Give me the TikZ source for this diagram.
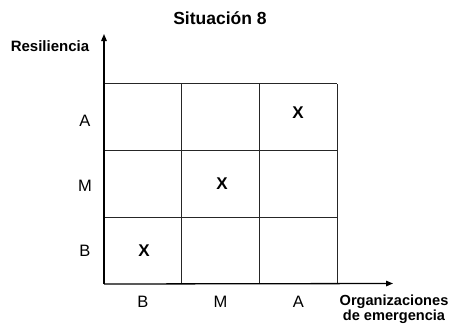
\documentclass[tikz,border=0pt]{standalone}
\usepackage{fontspec}
\setmainfont{Liberation Sans}
\usetikzlibrary{arrows.meta}

\tikzset{
	axis/.style={line width=1.3pt, -{Triangle[length=7pt,width=5.5pt]}},
	cellline/.style={line width=1pt, black!85},
	lab/.style={font=\fontsize{16.5}{18}\selectfont, inner sep=0pt},
	xmark/.style={font=\bfseries\fontsize{17}{18}\selectfont, inner sep=0pt},
	heading/.style={font=\bfseries\fontsize{17.5}{20}\selectfont, inner sep=0pt},
	axlabel/.style={font=\bfseries\fontsize{14.6}{15}\selectfont, inner sep=0pt, align=center}
}

\begin{document}
\begin{tikzpicture}[x=1pt,y=-1pt]
	\def \hor{ 77.7 };
	\def \ver{ 66.7 };
	\useasboundingbox (0,0) rectangle (455,325);
	% axes
	\coordinate (o) at (104,284);
	\coordinate (ytip) at (104,34);
	\coordinate (xtip) at (393,283.5);
	% grid
	\draw[cellline] (104+1*\hor,284) -- (104+1*\hor,284-3*\ver);
	\draw[cellline] (104+2*\hor,284) -- (104+2*\hor,284-3*\ver);
	\draw[cellline] (104+3*\hor,284) -- (104+3*\hor,284-3*\ver);
	\draw[cellline] (104,284-1*\ver) -- (104+3*\hor,284-1*\ver);
	\draw[cellline] (104,284-2*\ver) -- (104+3*\hor,284-2*\ver);
	\draw[cellline] (104,284-3*\ver) -- (104+3*\hor,284-3*\ver);
	\draw[axis] (o) -- (ytip);
	\draw[axis] (o) -- (xtip);
	% labels
	\node[heading] (title) at (220,18) {Situación 8};
	\node[axlabel, font=\bfseries\fontsize{15}{18}\selectfont] (res) at (50,46.5) {Resiliencia};
	\node[axlabel] (org) at (394,309) {Organizaciones\\de emergencia};
	\node[lab] (yA) at (85,120.5) {A};
	\node[lab] (yM) at (85,186) {M};
	\node[lab] (yB) at (85,251) {B};
	\node[lab] (xB) at (104+0.5*\hor,301.5) {B};
	\node[lab] (xM) at (104+1.5*\hor,301.5) {M};
	\node[lab] (xA) at (104+2.5*\hor,301.5) {A};
	\node[xmark] (x1) at (144,251) {X};
	\node[xmark] (x2) at (222,184) {X};
	\node[xmark] (x3) at (298,113) {X};
\end{tikzpicture}
\end{document}
